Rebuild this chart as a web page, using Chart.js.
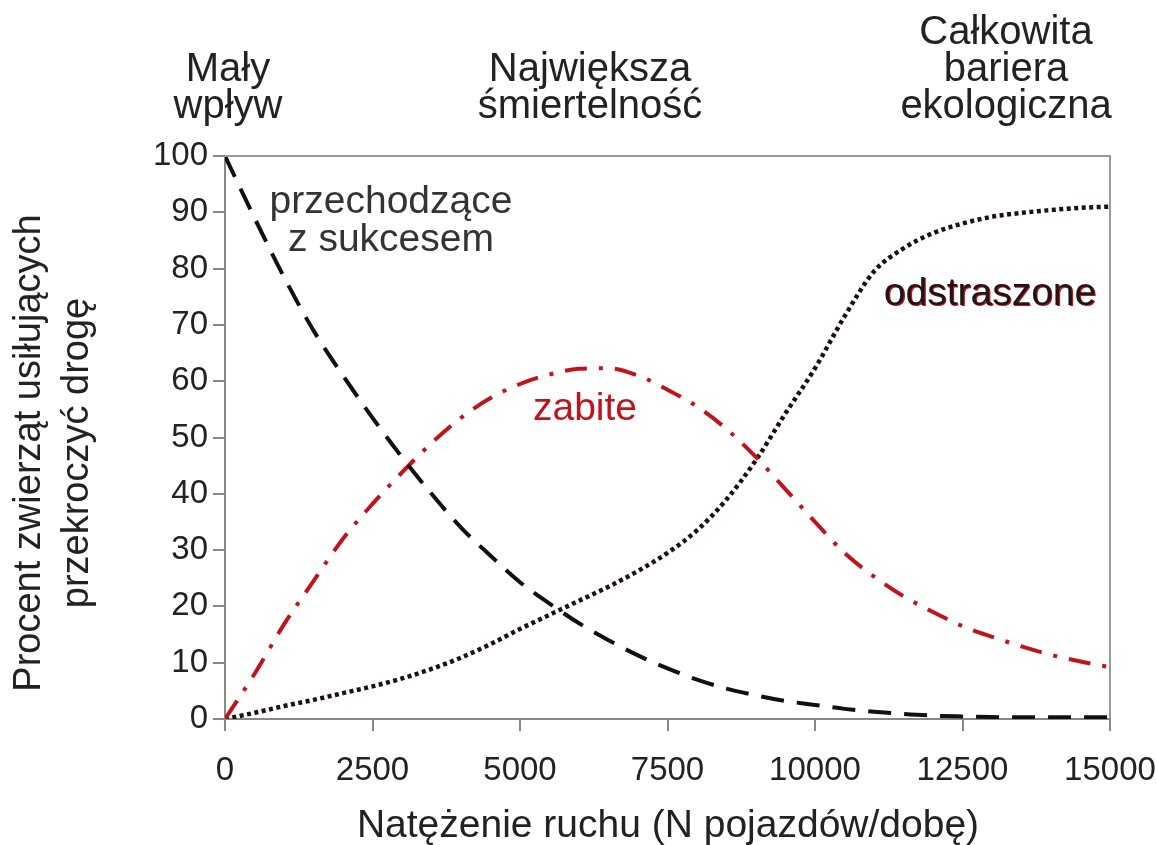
<!DOCTYPE html>
<html>
<head>
<meta charset="utf-8">
<script src="https://cdn.jsdelivr.net/npm/chart.js@4.4.1/dist/chart.umd.min.js"></script>
<style>
  html, body { margin: 0; padding: 0; background: #ffffff; }
  #wrap { width: 1156px; height: 845px; }
</style>
</head>
<body>
<div id="wrap"><canvas id="c" width="1156" height="845"></canvas></div>
<script>
// ---- data ----
const traffic = [0,500,1000,1500,2000,2500,3000,3500,4000,4500,5000,5500,6000,6500,7000,7500,
                 8000,8500,9000,9500,10000,10500,11000,11500,12000,12500,13000,13500,14000,14500,15000];
const passing = [100,89,78.5,69,61,53.5,46.5,40,34,29,24.3,20.5,17,14,11.3,9,
                 7,5.4,4.2,3.2,2.5,1.8,1.3,0.9,0.6,0.45,0.35,0.3,0.3,0.3,0.3];
const killed  = [0,8,16.8,24.5,32,38.2,43.8,49,53.5,57,59.5,61.2,62.2,62.3,61,58.5,
                 55.5,51.5,46.5,40.8,35,29.5,25.3,21.8,19,16.5,14.6,12.9,11.4,10.2,9.2];
const repelled = [0,1.1,2.3,3.4,4.6,5.8,7.2,8.9,10.9,13.3,16,18.5,21,23.5,26.3,29.5,
                  33.5,39,46,54.3,62.3,71.5,79.5,83.6,86.3,88,89.2,89.9,90.4,90.8,91];
const xTicks = [0,2500,5000,7500,10000,12500,15000];
const yTicks = [0,10,20,30,40,50,60,70,80,90,100];

const xTitle = 'Natężenie ruchu (N pojazdów/dobę)';
const yTitle = ['Procent zwierząt usiłujących', 'przekroczyć drogę'];
const zoneLabels = [
  { lines: ['Mały', 'wpływ'], x: 228 },
  { lines: ['Największa', 'śmiertelność'], x: 590 },
  { lines: ['Całkowita', 'bariera', 'ekologiczna'], x: 1006 }
];
const seriesLabels = [
  { lines: ['przechodzące', 'z sukcesem'], x: 391, y: 213, color: '#333333' },
  { lines: ['zabite'], x: 585, y: 420, color: '#c0141c' },
  { lines: ['odstraszone'], x: 990, y: 305, color: '#1c1616', shadow: '#c0141c' }
];

const FONT = '"Liberation Sans", Arial, Helvetica, sans-serif';
const toPts = (ys) => traffic.map((x, i) => ({ x: x, y: ys[i] }));

const textPlugin = {
  id: 'texts',
  afterDraw(chart) {
    const ctx = chart.ctx;
    const a = chart.chartArea;
    ctx.save();
    // box: top and right borders
    ctx.strokeStyle = '#9a9a9a';
    ctx.lineWidth = 2;
    ctx.beginPath();
    ctx.moveTo(a.left, a.top);
    ctx.lineTo(a.right, a.top);
    ctx.lineTo(a.right, a.bottom);
    ctx.stroke();

    ctx.fillStyle = '#222';
    ctx.textAlign = 'center';
    ctx.textBaseline = 'alphabetic';
    ctx.font = '40px ' + FONT;
    zoneLabels.forEach(z => {
      const n = z.lines.length;
      z.lines.forEach((t, i) => {
        ctx.fillText(t, z.x, 118 - (n - 1 - i) * 37);
      });
    });
    ctx.font = '39px ' + FONT;
    ctx.textBaseline = 'middle';
    ctx.fillText(xTitle, 668, 826);
    ctx.save();
    ctx.translate(30, 453);
    ctx.rotate(-Math.PI / 2);
    ctx.font = '38px ' + FONT;
    ctx.fillText(yTitle[0], 0, 0);
    ctx.fillText(yTitle[1], 0, 48);
    ctx.restore();
    ctx.textBaseline = 'alphabetic';
    ctx.font = '39px ' + FONT;
    seriesLabels.forEach(s => {
      s.lines.forEach((t, i) => {
        if (s.shadow) {
          ctx.fillStyle = s.shadow;
          ctx.fillText(t, s.x + 1.2, s.y + i * 38 + 0.8);
        }
        ctx.fillStyle = s.color;
        ctx.fillText(t, s.x, s.y + i * 38);
      });
    });
    ctx.restore();
  }
};

new Chart(document.getElementById('c'), {
  type: 'line',
  data: {
    datasets: [
      { label: 'przechodzące z sukcesem', data: toPts(passing), borderColor: '#111111',
        borderWidth: 4, borderDash: [23, 13], pointRadius: 0, cubicInterpolationMode: 'monotone', fill: false },
      { label: 'zabite', data: toPts(killed), borderColor: '#c0141c',
        borderWidth: 4, borderDash: [22, 12, 4, 12], pointRadius: 0, cubicInterpolationMode: 'monotone', fill: false },
      { label: 'odstraszone', data: toPts(repelled), borderColor: '#1c1010',
        borderWidth: 4.5, borderDash: [4, 3.5], pointRadius: 0, cubicInterpolationMode: 'monotone', fill: false }
    ]
  },
  options: {
    responsive: false,
    animation: false,
    devicePixelRatio: 1,
    layout: { padding: { top: 156, right: 46, left: 0, bottom: 0 } },
    plugins: { legend: { display: false }, tooltip: { enabled: false }, title: { display: false } },
    scales: {
      x: {
        type: 'linear', min: 0, max: 15000,
        afterBuildTicks: s => { s.ticks = xTicks.map(v => ({ value: v })); },
        ticks: { font: { size: 33, family: FONT }, color: '#222', padding: 20, maxRotation: 0, autoSkip: false,
                 callback: v => String(v) },
        grid: { drawOnChartArea: false, drawTicks: true, tickLength: 12, color: '#888', lineWidth: 2 },
        border: { display: true, color: '#888', width: 2 },
        afterFit: s => { s.height = 126; s.paddingLeft = 0; s.paddingRight = 0; }
      },
      y: {
        type: 'linear', min: 0, max: 100,
        afterBuildTicks: s => { s.ticks = yTicks.map(v => ({ value: v })); },
        ticks: { font: { size: 33, family: FONT }, color: '#222', padding: 5, autoSkip: false,
                 callback: v => String(v) },
        grid: { drawOnChartArea: false, drawTicks: true, tickLength: 12, color: '#888', lineWidth: 2 },
        border: { display: true, color: '#888', width: 2 },
        afterFit: s => { s.width = 225; s.paddingTop = 0; s.paddingBottom = 0; }
      }
    }
  },
  plugins: [textPlugin]
});
</script>
</body>
</html>
